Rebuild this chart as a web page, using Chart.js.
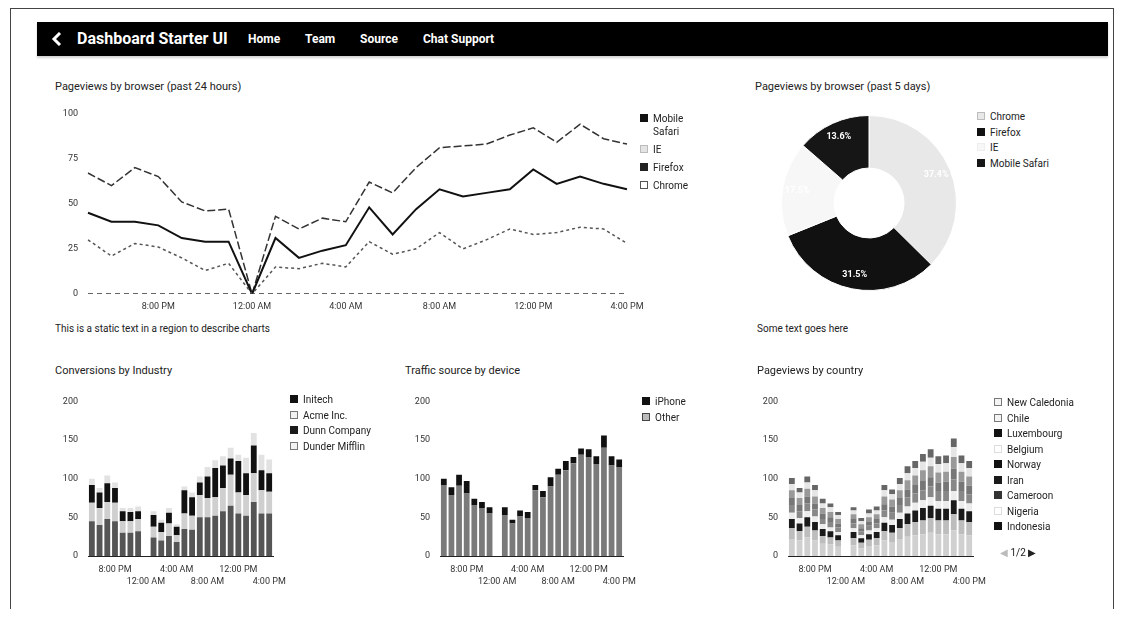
<!DOCTYPE html>
<html>
<head>
<meta charset="utf-8">
<title>Dashboard Starter UI</title>
<script src="https://cdn.jsdelivr.net/npm/chart.js@4.4.1/dist/chart.umd.min.js"></script>
<style>
  body { margin:0; width:1124px; height:621px; overflow:hidden; position:relative; background:#fff;
         font-family:Roboto,"Liberation Sans",Arial,sans-serif; color:#222; }
  .frame { position:absolute; left:10px; top:8px; width:1102px; height:600px; border:1px solid #444; border-bottom:none; }
  .nav { position:absolute; left:37px; top:22px; width:1071px; height:34px; background:#000; color:#fff; font-weight:bold;
         box-shadow:0 2px 2px rgba(0,0,0,.18); }
  .nav span { position:absolute; top:0; line-height:34px; white-space:nowrap; }
  .nav .brand { font-size:16px; }
  .nav .link { font-size:12px; }
  .nav svg { position:absolute; left:13px; top:10px; }
  .txt { position:absolute; font-size:11px; color:#222; white-space:nowrap; line-height:13px; }
  .box { position:absolute; }
  .legend { position:absolute; font-size:10px; line-height:13px; color:#222; }
  .legend .it { position:relative; padding-left:13px; }
  .legend .mk { position:absolute; left:0; top:2px; width:8px; height:8px; box-sizing:border-box; }
  .pager { position:absolute; font-size:10px; color:#222; white-space:nowrap; }
</style>
</head>
<body>
<div class="frame"></div>

<div class="nav">
  <svg width="14" height="14" viewBox="0 0 14 14"><polyline points="10,1 4,7 10,13" fill="none" stroke="#fff" stroke-width="3"/></svg>
  <span class="brand" style="left:40px">Dashboard Starter UI</span>
  <span class="link" style="left:211px">Home</span>
  <span class="link" style="left:268px">Team</span>
  <span class="link" style="left:323px">Source</span>
  <span class="link" style="left:386px">Chat Support</span>
</div>

<div class="txt" style="left:55px;top:80px">Pageviews by browser (past 24 hours)</div>
<div class="box" style="left:55px;top:98px;width:597px;height:218px"><canvas id="lineChart"></canvas></div>
<div class="legend" id="lineLegend" style="left:640px;top:112px;width:46px"></div>

<div class="txt" style="left:755px;top:80px">Pageviews by browser (past 5 days)</div>
<div class="box" style="left:781px;top:115px;width:176px;height:176px"><canvas id="pieChart"></canvas></div>
<div class="legend" id="pieLegend" style="left:977px;top:110px;width:120px"></div>

<div class="txt" style="left:55px;top:322px;font-size:10px">This is a static text in a region to describe charts</div>
<div class="txt" style="left:757px;top:322px;font-size:10px">Some text goes here</div>

<div class="txt" style="left:55px;top:364px">Conversions by Industry</div>
<div class="box" style="left:55px;top:386px;width:239px;height:202px"><canvas id="industryChart"></canvas></div>
<div class="legend" id="industryLegend" style="left:290px;top:393px;width:100px"></div>

<div class="txt" style="left:405px;top:364px">Traffic source by device</div>
<div class="box" style="left:407px;top:386px;width:237px;height:202px"><canvas id="deviceChart"></canvas></div>
<div class="legend" id="deviceLegend" style="left:642px;top:395px;width:80px"></div>

<div class="txt" style="left:757px;top:364px">Pageviews by country</div>
<div class="box" style="left:755px;top:386px;width:239px;height:202px"><canvas id="countryChart"></canvas></div>
<div class="legend" id="countryLegend" style="left:994px;top:396px;width:110px"></div>
<div class="pager" style="left:1000px;top:547px"><span style="color:#bbb">&#9664;</span> 1/2 <span>&#9654;</span></div>

<script>
'use strict';

// ---- hourly axis (past 24 hours) ----
const HOURS = ['5:00 PM','6:00 PM','7:00 PM','8:00 PM','9:00 PM','10:00 PM','11:00 PM','12:00 AM',
               '1:00 AM','2:00 AM','3:00 AM','4:00 AM','5:00 AM','6:00 AM','7:00 AM','8:00 AM',
               '9:00 AM','10:00 AM','11:00 AM','12:00 PM','1:00 PM','2:00 PM','3:00 PM','4:00 PM'];

// ---- pageviews by browser ----
const BROWSERS = ['Mobile Safari','IE','Firefox','Chrome'];
const pvMobileSafari = [0,0,0,0,0,0,0,0,0,0,0,0,0,0,0,0,0,0,0,0,0,0,0,0];
const pvIE      = [30,21,28,26,20,13,17,0,15,14,17,15,29,22,25,34,25,30,36,33,34,37,36,28];
const pvFirefox = [45,40,40,38,31,29,29,0,31,20,24,27,48,33,47,58,54,56,58,69,61,65,61,58];
const pvChrome  = [67,60,70,65,51,46,47,0,43,36,42,40,62,56,70,81,82,83,88,92,84,94,86,83];

// ---- share by browser (past 5 days) ----
const SHARE_LABELS = ['Chrome','Firefox','IE','Mobile Safari'];
const shareValues  = [37.4, 31.5, 17.5, 13.6];

// ---- conversions by industry ----
const INDUSTRIES = ['Initech','Acme Inc.','Dunn Company','Dunder Mifflin'];
const convInitech = [45,40,48,45,30,30,32,0,24,20,26,18,35,34,50,50,52,58,65,55,52,70,55,55];
const convAcme    = [24,22,22,24,15,15,16,0,14,11,16,9,20,18,29,25,24,30,40,27,27,37,30,28];
const convDunn    = [23,20,24,19,13,12,10,0,15,12,14,11,30,24,16,28,38,29,21,41,28,36,26,24];
const convDunder  = [8,6,10,7,4,5,6,0,5,4,6,3,5,6,8,12,10,12,14,8,20,16,20,18];

// ---- traffic by device ----
const DEVICES = ['iPhone','Other'];
const trafficIphone = [8,10,14,16,8,8,8,0,10,5,8,8,7,8,12,8,12,8,8,10,10,16,12,10];
const trafficOther  = [92,79,91,81,66,62,55,0,53,42,51,49,85,76,90,105,111,120,131,128,119,140,117,115];

// ---- pageviews by country ----
const COUNTRIES = ['New Caledonia','Chile','Luxembourg','Belgium','Norway','Iran','Cameroon','Nigeria','Indonesia'];
const cNewCaledonia = [22,20,24,20,16,15,12,0,14,10,13,14,20,18,22,25,27,28,30,28,28,33,28,27];
const cChile        = [14,12,14,13,10,9,8,0,9,7,8,9,12,12,14,16,17,18,19,18,18,21,18,17];
const cLuxembourg   = [12,10,12,11,9,8,7,0,8,6,7,8,11,10,12,14,15,16,16,15,15,18,15,14];
const cBelgium      = [8,7,8,7,6,5,4,0,5,4,5,5,7,7,8,9,10,10,11,10,10,12,10,10];
const cNorway       = [10,9,10,9,7,7,6,0,6,5,6,6,9,9,10,12,12,13,14,13,13,15,13,12];
const cIran         = [9,8,9,8,7,6,5,0,6,4,5,6,8,8,9,10,11,12,12,11,12,14,12,11];
const cCameroon     = [10,9,10,9,7,7,6,0,6,5,6,6,10,9,10,12,12,14,14,13,13,15,13,12];
const cNigeria      = [8,7,8,8,6,6,5,0,5,4,5,5,8,7,8,9,10,11,11,11,11,13,11,11];
const cIndonesia    = [8,6,8,7,6,5,4,0,4,4,5,5,7,6,8,9,9,10,11,10,10,11,10,9];

Chart.defaults.font.family = 'Roboto, "Liberation Sans", Arial, sans-serif';
Chart.defaults.font.size = 9;
Chart.defaults.color = '#333';

// ---- helpers ----
function legend(id, names, colors, borders) {
  document.getElementById(id).innerHTML = names.map((n, i) =>
    `<div class="it" style="margin-bottom:${id === 'lineLegend' ? 5 : 2.5}px"><span class="mk" style="background:${colors[i]};border:1px solid ${borders[i]}"></span>${n}</div>`
  ).join('');
}

const baseOpts = () => ({
  responsive: true, maintainAspectRatio: false, animation: false,
  plugins: { legend: { display: false }, tooltip: { enabled: false } }
});

// two staggered rows of hour labels under the bars
const barX = () => ({
  stacked: true,
  grid: { display: false, drawTicks: false },
  border: { display: true, color: '#222', width: 1 },
  ticks: { autoSkip: false, maxRotation: 0, padding: 8, font: { size: 9, lineHeight: 1.35 },
    callback: (v, i) => i % 8 === 3 ? [HOURS[i]] : (i % 8 === 7 ? ['', HOURS[i]] : '') },
  afterFit: s => { s.height = 32; }
});
const barY = () => ({
  stacked: true, min: 0, max: 200,
  grid: { display: false, drawTicks: false }, border: { display: false },
  ticks: { stepSize: 50, padding: 10 },
  afterFit: s => { s.width = 33; }
});
const barSet = (label, data, color) => ({ label, data, backgroundColor: color, borderWidth: 0,
  barPercentage: 0.92, categoryPercentage: 0.82 });

// ============================================================
// LINE: pageviews by browser
// ============================================================
const lineColors = ['#333', '#555', '#111', '#333'];
new Chart(document.getElementById('lineChart'), {
  type: 'line',
  data: {
    labels: HOURS,
    datasets: [
      { label: BROWSERS[0], data: pvMobileSafari, borderColor: lineColors[0], borderWidth: 1.5, borderDash: [5, 4] },
      { label: BROWSERS[1], data: pvIE,           borderColor: lineColors[1], borderWidth: 1.5, borderDash: [3, 3] },
      { label: BROWSERS[2], data: pvFirefox,      borderColor: lineColors[2], borderWidth: 2 },
      { label: BROWSERS[3], data: pvChrome,       borderColor: lineColors[3], borderWidth: 1.5, borderDash: [8, 3] }
    ]
  },
  options: {
    ...baseOpts(),
    layout: { padding: { top: 10, right: 25, left: 0, bottom: 0 } },
    elements: { point: { radius: 0 }, line: { tension: 0 } },
    scales: {
      x: { grid: { display: false, drawTicks: false }, border: { display: false },
           ticks: { autoSkip: false, maxRotation: 0, padding: 7, callback: (v, i) => i % 4 === 3 ? HOURS[i] : '' },
           afterFit: s => { s.height = 22; } },
      y: { min: 0, max: 100, grid: { display: false, drawTicks: false }, border: { display: false },
           ticks: { stepSize: 25, padding: 10 }, afterFit: s => { s.width = 33; } }
    }
  }
});
legend('lineLegend', BROWSERS, ['#111', '#e4e4e4', '#222', '#fff'], ['#111', '#bbb', '#222', '#555']);

// ============================================================
// DOUGHNUT: share by browser
// ============================================================
const sliceLabels = {
  id: 'sliceLabels',
  afterDatasetsDraw(chart) {
    const { ctx } = chart;
    const ds = chart.data.datasets[0];
    chart.getDatasetMeta(0).data.forEach((arc, i) => {
      const a = (arc.startAngle + arc.endAngle) / 2;
      const r = arc.innerRadius + (arc.outerRadius - arc.innerRadius) * 0.72;
      ctx.save();
      ctx.fillStyle = '#fff';
      ctx.font = 'bold 9px Roboto, "Liberation Sans", Arial, sans-serif';
      ctx.textAlign = 'center';
      ctx.textBaseline = 'middle';
      ctx.fillText(ds.data[i].toFixed(1) + '%', arc.x + Math.cos(a) * r, arc.y + Math.sin(a) * r);
      ctx.restore();
    });
  }
};
const pieColors = ['#e8e8e8', '#111', '#f7f7f7', '#161616'];
new Chart(document.getElementById('pieChart'), {
  type: 'doughnut',
  data: { labels: SHARE_LABELS, datasets: [{ data: shareValues, backgroundColor: pieColors, borderColor: '#fff', borderWidth: 1 }] },
  options: { ...baseOpts(), cutout: '40%' },
  plugins: [sliceLabels]
});
legend('pieLegend', SHARE_LABELS, pieColors, ['#bbb', '#111', '#eee', '#161616']);

// ============================================================
// STACKED BARS
// ============================================================
const indColors = ['#555', '#cfcfcf', '#111', '#e2e2e2'];
new Chart(document.getElementById('industryChart'), {
  type: 'bar',
  data: { labels: HOURS, datasets: [
    barSet(INDUSTRIES[0], convInitech, indColors[0]),
    barSet(INDUSTRIES[1], convAcme,    indColors[1]),
    barSet(INDUSTRIES[2], convDunn,    indColors[2]),
    barSet(INDUSTRIES[3], convDunder,  indColors[3])
  ]},
  options: { ...baseOpts(), layout: { padding: { top: 10, right: 12 } }, scales: { x: barX(), y: barY() } }
});
legend('industryLegend', INDUSTRIES, ['#111', '#f2f2f2', '#1a1a1a', '#f2f2f2'], ['#111', '#777', '#1a1a1a', '#777']);

new Chart(document.getElementById('deviceChart'), {
  type: 'bar',
  data: { labels: HOURS, datasets: [
    barSet(DEVICES[1], trafficOther,  '#7a7a7a'),
    barSet(DEVICES[0], trafficIphone, '#111')
  ]},
  options: { ...baseOpts(), layout: { padding: { top: 10, right: 12 } }, scales: { x: barX(), y: barY() } }
});
legend('deviceLegend', DEVICES, ['#111', '#bbb'], ['#111', '#444']);

const countryColors = ['#d0d0d0', '#bdbdbd', '#1a1a1a', '#ececec', '#888', '#777', '#999', '#e6e6e6', '#666'];
const countryData = [cNewCaledonia, cChile, cLuxembourg, cBelgium, cNorway, cIran, cCameroon, cNigeria, cIndonesia];
new Chart(document.getElementById('countryChart'), {
  type: 'bar',
  data: { labels: HOURS, datasets: COUNTRIES.map((c, i) => barSet(c, countryData[i], countryColors[i])) },
  options: { ...baseOpts(), layout: { padding: { top: 10, right: 12 } }, scales: { x: barX(), y: barY() } }
});
legend('countryLegend', COUNTRIES,
  ['#f4f4f4', '#f4f4f4', '#111', '#fff', '#111', '#1a1a1a', '#333', '#fff', '#111'],
  ['#777', '#777', '#111', '#ddd', '#111', '#1a1a1a', '#333', '#ddd', '#111']);
</script>
</body>
</html>
